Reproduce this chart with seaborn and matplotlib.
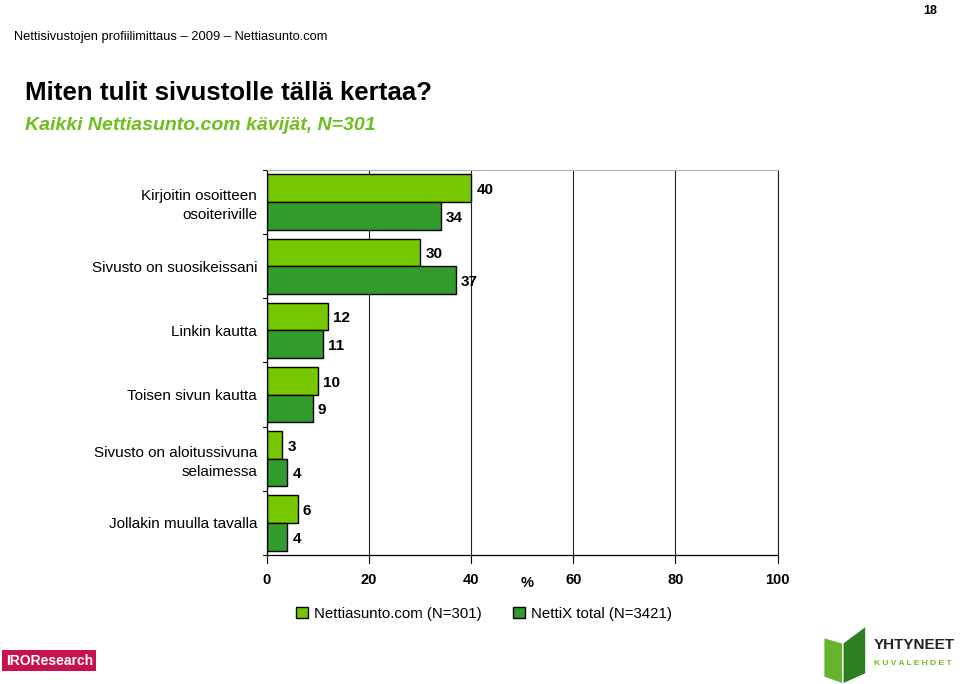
import pandas as pd
import seaborn as sns
import matplotlib.pyplot as plt
from matplotlib.patches import Patch, Polygon

# Data
categories = ["Kirjoitin osoitteen\nosoiteriville", "Sivusto on suosikeissani",
              "Linkin kautta", "Toisen sivun kautta",
              "Sivusto on aloitussivuna\nselaimessa", "Jollakin muulla tavalla"]
nettiasunto = [40, 30, 12, 10, 3, 6]
nettix_total = [34, 37, 11, 9, 4, 4]
series_names = ["Nettiasunto.com (N=301)", "NettiX total (N=3421)"]
colors = ["#77C800", "#339A2D"]
x_ticks = [0, 20, 40, 60, 80, 100]

df = pd.DataFrame({
    "category": categories * 2,
    "value": nettiasunto + nettix_total,
    "series": [series_names[0]] * len(categories) + [series_names[1]] * len(categories),
})

sns.set_style("white")
plt.rcParams["font.family"] = ["Liberation Sans", "DejaVu Sans"]
plt.rcParams["text.color"] = "black"
plt.rcParams["xtick.color"] = "black"
plt.rcParams["ytick.color"] = "black"

fig = plt.figure(figsize=(9.6, 6.84), dpi=100)
ax = fig.add_axes([0.278, 0.1886, 0.532, 0.563])

sns.barplot(data=df, y="category", x="value", hue="series", orient="h",
            palette=colors, width=0.86, edgecolor="black", linewidth=1,
            saturation=1, ax=ax, legend=False, order=categories,
            hue_order=series_names)

# value labels
for cont in ax.containers:
    for bar in cont:
        w = bar.get_width()
        ax.text(w + 1.0, bar.get_y() + bar.get_height() / 2 + 0.03, f"{w:.0f}",
                va="center", ha="left", fontsize=11, fontweight="bold")

ax.set_xlim(0, 100)
ax.set_ylim(5.5, -0.5)
ax.set_xticks(x_ticks)
ax.set_xticklabels([str(t) for t in x_ticks], fontsize=10.5, fontweight="bold")
ax.set_yticks(range(len(categories)))
ax.set_yticklabels(categories, fontsize=11, linespacing=1.45)
ax.set_ylabel("")
ax.set_xlabel("")
ax.xaxis.grid(True, color="#222222", linewidth=0.8)
ax.set_axisbelow(True)
ax.tick_params(axis="y", length=0, pad=7)
ax.tick_params(axis="x", length=0, pad=13)
for y in [-0.5, 0.5, 1.5, 2.5, 3.5, 4.5, 5.5]:
    ax.plot([-0.8, 0], [y, y], color="black", lw=0.8, clip_on=False)
for t in x_ticks:
    ax.plot([t, t], [5.5, 5.62], color="black", lw=0.8, clip_on=False)
for side in ["left", "bottom"]:
    ax.spines[side].set_color("black")
    ax.spines[side].set_linewidth(0.9)
ax.spines["top"].set_color("#B0B0B0")
ax.spines["right"].set_color("#222222")
ax.spines["right"].set_linewidth(0.8)

fig.text(0.549, 0.147, "%", fontsize=10.5, fontweight="bold", ha="center", va="center")

# legend
handles = [Patch(facecolor=c, edgecolor="black", label=n) for c, n in zip(colors, series_names)]
fig.legend(handles=handles, loc="center", bbox_to_anchor=(0.504, 0.103), ncol=2,
           frameon=False, fontsize=10.8, handlelength=0.8, handleheight=0.8,
           handletextpad=0.4, columnspacing=2.1)

# header texts
fig.text(0.0146, 0.946, "Nettisivustojen profiilimittaus \u2013 2009 \u2013 Nettiasunto.com",
         fontsize=9.3, va="center")
fig.text(0.976, 0.992, "18", fontsize=9, fontweight="bold", va="top", ha="right")
fig.text(0.026, 0.864, "Miten tulit sivustolle tällä kertaa?", fontsize=18.6,
         fontweight="bold", va="center")
fig.text(0.026, 0.817, "Kaikki Nettiasunto.com kävijät, N=301", fontsize=14,
         fontweight="bold", style="italic", color="#6DBE1E", va="center")

# logos (approximate)
fig.text(0.006, 0.034, "IROResearch", fontsize=10, color="white", fontweight="bold",
         va="center", ha="left",
         bbox=dict(boxstyle="square,pad=0.25", facecolor="#C8124E", edgecolor="none"))
fig.patches.append(Polygon([[0.858, 0.068], [0.858, 0.01], [0.878, 0.0], [0.878, 0.06]],
                           closed=True, transform=fig.transFigure, facecolor="#66B32E"))
fig.patches.append(Polygon([[0.878, 0.06], [0.878, 0.0], [0.902, 0.015], [0.902, 0.085]],
                           closed=True, transform=fig.transFigure, facecolor="#2E7D1E"))
fig.text(0.910, 0.057, "YHTYNEET", fontsize=11, fontweight="bold", color="#222222", va="center")
fig.text(0.910, 0.030, "K U V A L E H D E T", fontsize=6, fontweight="bold", color="#6DBE1E", va="center")

fig.savefig("out.png", dpi=100)
